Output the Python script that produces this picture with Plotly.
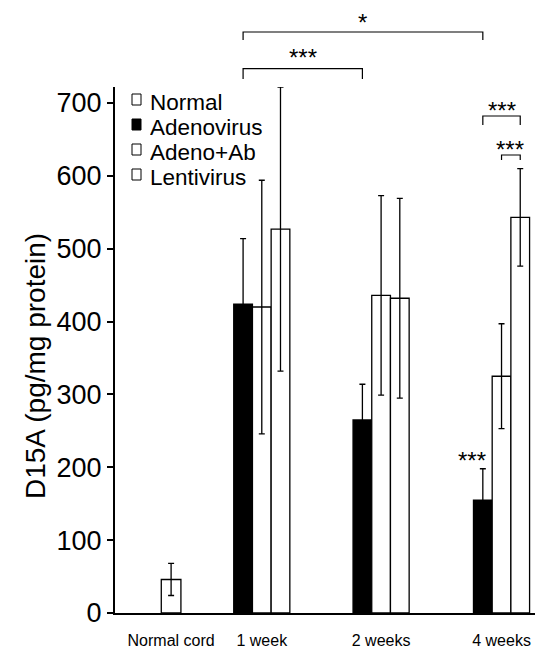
import plotly.graph_objects as go

# ---- data ----
categories = ["Normal cord", "1 week", "2 weeks", "4 weeks"]
series_names = ["Normal", "Adenovirus", "Adeno+Ab", "Lentivirus"]
normal_vals = [46]
normal_err = [22]
adeno_vals = [424, 265, 155]
adeno_err = [90, 49, 43]
adenoab_vals = [420, 436, 325]
adenoab_err = [174, 137, 72]
lenti_vals = [527, 432, 543]
lenti_err = [195, 137, 67]
y_ticks = [0, 100, 200, 300, 400, 500, 600, 700]
y_title = "D15A (pg/mg protein)"

# ---- layout constants ----
W, H = 535, 659
L, R, T, B = 115, 0, 87, 46
PW, PH = W - L - R, H - T - B
group_pos = [3.0, 7.85, 14.23, 20.67]
XMAX = 22.46
YMAX = 722
FONT = "Liberation Sans, Arial, sans-serif"

def px_x(px):
    return (px - L) / PW

def px_y(py):
    return (H - B - py) / PH

treated_pos = group_pos[1:]
fig = go.Figure()

err_style = dict(type="data", color="black", thickness=1.3, width=3, visible=True)

fig.add_trace(go.Bar(
    name=series_names[0], x=[group_pos[0]], y=normal_vals, width=1.05,
    marker=dict(color="white", line=dict(color="black", width=1.3)),
    error_y=dict(array=normal_err, **err_style), showlegend=False))
fig.add_trace(go.Bar(
    name=series_names[1], x=[p - 1 for p in treated_pos], y=adeno_vals, width=1.0,
    marker=dict(color="black", line=dict(color="black", width=1.3)),
    error_y=dict(array=adeno_err, **err_style), showlegend=False))
fig.add_trace(go.Bar(
    name=series_names[2], x=[p for p in treated_pos], y=adenoab_vals, width=1.0,
    marker=dict(color="white", line=dict(color="black", width=1.3)),
    error_y=dict(array=adenoab_err, **err_style), showlegend=False))
fig.add_trace(go.Bar(
    name=series_names[3], x=[p + 1 for p in treated_pos], y=lenti_vals, width=1.0,
    marker=dict(color="white", line=dict(color="black", width=1.3)),
    error_y=dict(array=lenti_err, **err_style), showlegend=False))

shapes = []
annotations = []

def bracket(x0, x1, y_top, y_end, yref):
    shapes.append(dict(type="path", xref="x", yref=yref,
                       path=f"M {x0},{y_end} L {x0},{y_top} L {x1},{y_top} L {x1},{y_end}",
                       line=dict(color="black", width=1.2)))

def stars(x, y, txt, yref, xref="x"):
    annotations.append(dict(x=x, y=y, xref=xref, yref=yref, text=txt, showarrow=False,
                            font=dict(family=FONT, size=24, color="black"),
                            xanchor="center", yanchor="middle"))

def vy(py):
    return (H - B - py) / PH * YMAX

g1, g2, g4 = group_pos[1], group_pos[2], group_pos[3]
# 1 week vs 4 weeks (adenovirus)
bracket(g1 - 1, g4 - 1, px_y(32), px_y(40), "paper")
stars((g1 + g4) / 2 - 1, px_y(22), "*", "paper")
# 1 week vs 2 weeks (adenovirus)
bracket(g1 - 1, g2 - 1, px_y(68.6), px_y(79), "paper")
stars((g1 + g2) / 2 - 1, px_y(57), "***", "paper")
# 4 weeks comparisons
bracket(g4 - 1, g4 + 1, vy(116), vy(125), "y")
stars(g4, vy(110), "***", "y")
bracket(g4, g4 + 1, vy(155), vy(160), "y")
stars(g4 + 0.45, vy(149), "***", "y")
stars(g4 - 1.6, vy(460), "***", "y")

# legend drawn manually
leg_base = [110, 135, 160, 185]
leg_fill = ["white", "black", "white", "white"]
for name, base, fill in zip(series_names, leg_base, leg_fill):
    shapes.append(dict(type="rect", xref="paper", yref="paper",
                       x0=px_x(132), x1=px_x(141), y0=px_y(base - 5), y1=px_y(base - 16),
                       fillcolor=fill, line=dict(color="black", width=1)))
    annotations.append(dict(x=px_x(149), y=px_y(base - 8), xref="paper", yref="paper",
                            text=name, showarrow=False, xanchor="left", yanchor="middle",
                            height=22, borderpad=0,
                            font=dict(family=FONT, size=22.5, color="black")))

# y-axis title
annotations.append(dict(x=px_x(35), y=px_y(366), xref="paper", yref="paper",
                        text=y_title, textangle=-90, showarrow=False,
                        xanchor="center", yanchor="middle",
                        font=dict(family=FONT, size=28, color="black")))

fig.update_layout(
    width=W, height=H,
    margin=dict(l=L, r=R, t=T, b=B, autoexpand=False),
    paper_bgcolor="white", plot_bgcolor="white",
    barmode="overlay",
    showlegend=False,
    shapes=shapes, annotations=annotations,
    xaxis=dict(range=[0, XMAX], tickvals=group_pos, ticktext=categories,
               showline=True, linecolor="black", linewidth=2, ticks="",
               showgrid=False, zeroline=False, ticklabeloverflow="allow",
               tickfont=dict(family=FONT, size=16, color="black"),
               ticklabelstandoff=12),
    yaxis=dict(range=[0, YMAX], tickvals=y_ticks, showline=True, linecolor="black",
               linewidth=2, ticks="outside", ticklen=6, tickwidth=2, tickcolor="black",
               showgrid=False, zeroline=False,
               tickfont=dict(family=FONT, size=27, color="black")),
)

fig.write_html("out.html")
